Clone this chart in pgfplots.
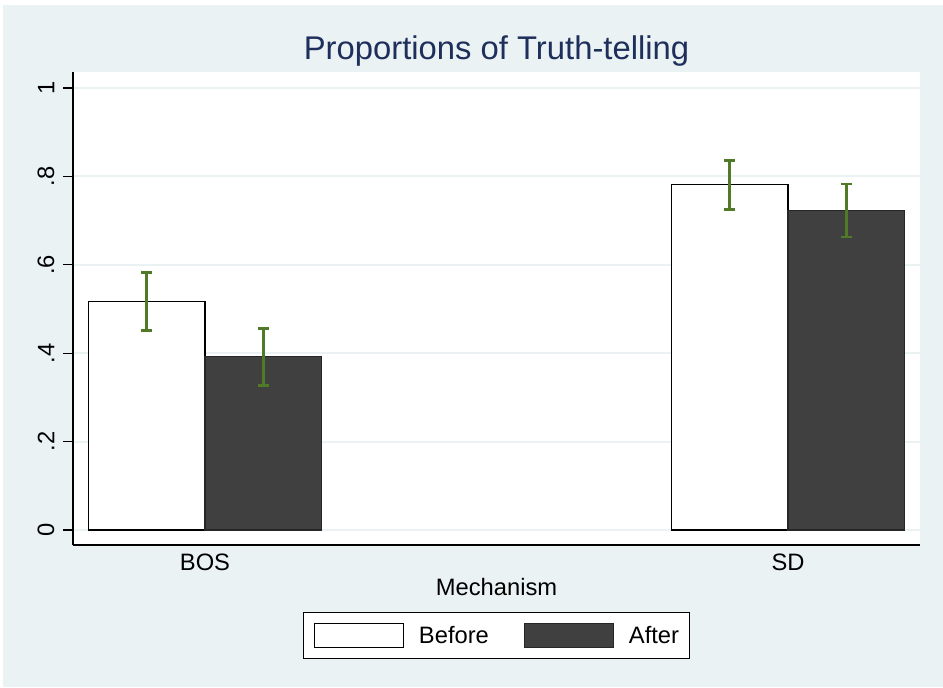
\documentclass[border=0pt]{standalone}
\usepackage{fontspec}
\setmainfont{Liberation Sans}
\usepackage{pgfplots}
\pgfplotsset{compat=1.18}

\definecolor{bgblue}{RGB}{234,242,243}
\definecolor{titlenavy}{RGB}{30,47,92}
\definecolor{errgreen}{RGB}{80,122,40}
\definecolor{bardark}{RGB}{64,64,64}

\newcommand{\lbl}{\fontsize{17.8}{21}\selectfont}

\pgfplotsset{
  errs/.style={
    error bars/y dir=both, error bars/y explicit,
    error bars/error bar style={errgreen, line width=2pt},
    error bars/error mark options={errgreen, line width=2pt, mark size=4.1pt, rotate=90},
  },
}

\begin{document}
\begin{tikzpicture}[x=0.75pt,y=0.75pt]
  % page background (1px = 0.75pt)
  \fill[white] (0,0) rectangle (943,687);
  \fill[bgblue] (3,0) rectangle (943,682);

  \begin{axis}[
      at={(54.75pt,106.5pt)}, anchor=south west,
      scale only axis,
      width=635.25pt, height=354.75pt,
      axis background/.style={fill=white},
      axis x line*=bottom, axis y line*=left,
      axis line style={black, line width=0.9pt},
      xmin=-0.2264, xmax=1.2264,
      ymin=-0.034, ymax=1.036,
      xtick={0,1}, xticklabels={BOS,SD},
      xtick style={draw=none},
      ytick={0,0.2,0.4,0.6,0.8,1},
      yticklabels={0,.2,.4,.6,.8,1},
      tick align=outside,
      major tick length=7.5pt,
      ytick style={black, line width=0.9pt},
      ymajorgrids,
      grid style={bgblue, line width=1.5pt},
      tick label style={font=\lbl},
      yticklabel style={xshift=-3pt, rotate=90, anchor=south},
      xticklabel style={anchor=base, yshift=-11.5pt},
      xlabel={Mechanism},
      xlabel style={font=\lbl, at={(0.5,0)}, anchor=base, yshift=-37.5pt},
      title={Proportions of Truth-telling},
      title style={font=\fontsize{24.6}{28}\selectfont, text=titlenavy,
                   at={(0.5,1)}, anchor=base, yshift=3.5pt},
      ybar, bar width=0.2, bar shift=0pt,
      legend columns=2,
      legend image code/.code={\draw[#1] (0pt,-9pt) rectangle (66.75pt,9pt);},
      legend style={at={(0.5,-0.1416)}, anchor=north, draw=black, fill=white,
                    line width=0.75pt,
                    font=\lbl, inner xsep=7.5pt, inner ysep=8pt,
                    nodes={inner sep=0pt},
                    /tikz/every odd column/.append style={column sep=11.25pt},
                    /tikz/every even column/.append style={column sep=26.25pt}},
    ]
    \addplot[fill=white, draw=black, line width=0.8pt, errs]
      coordinates {(-0.1,0.5165) +- (0,0.066) (0.9,0.7805) +- (0,0.055)};
    \addplot[fill=bardark, draw=black!85, line width=0.8pt, errs]
      coordinates {(0.1,0.392) +- (0,0.0645) (1.1,0.7225) +- (0,0.060)};
    \legend{Before,After}
  \end{axis}
\end{tikzpicture}
\end{document}
